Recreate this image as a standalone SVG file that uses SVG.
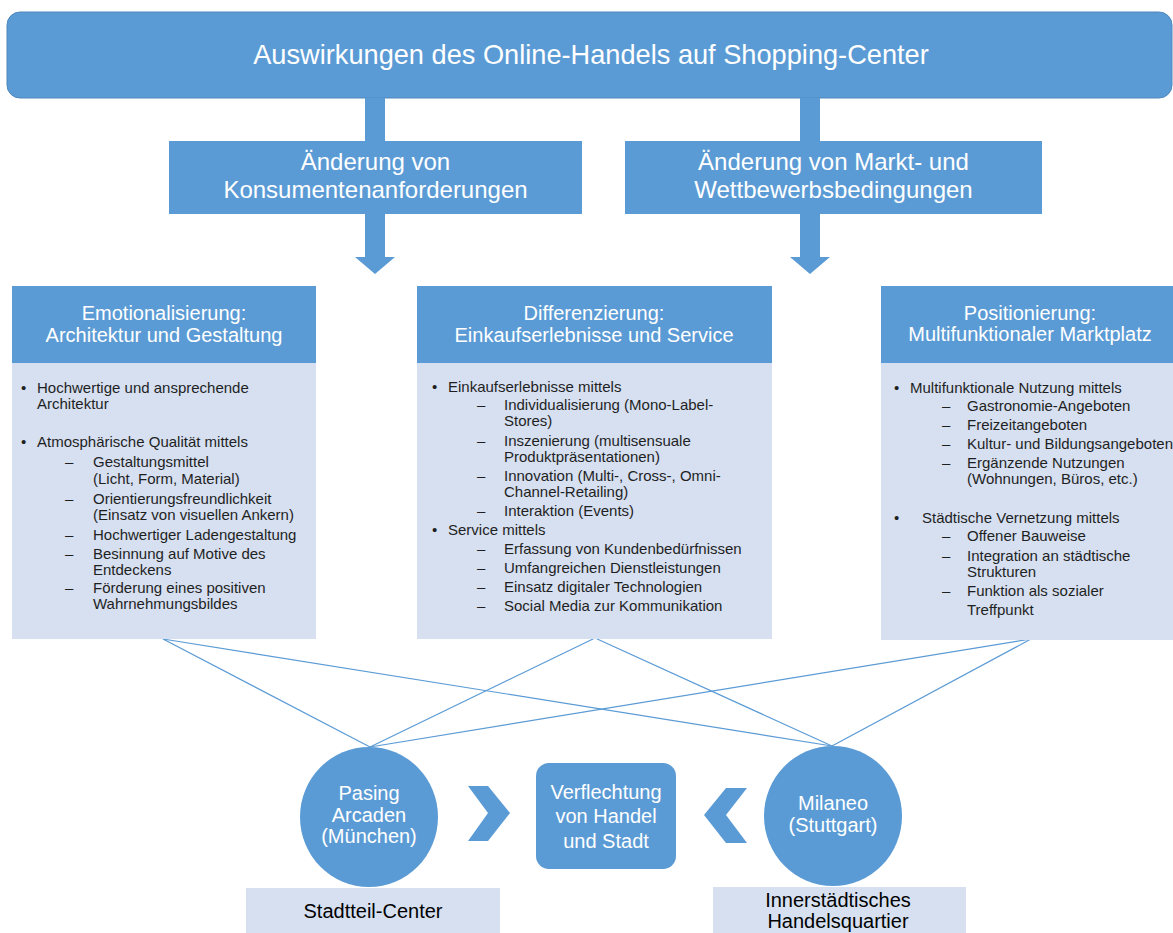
<svg xmlns="http://www.w3.org/2000/svg" width="1173" height="933" viewBox="0 0 1173 933">
  <style>
    .blue { fill: #5B9BD5; }
    .pale { fill: #D6E0F1; }
    .wt { fill: #FFFFFF; font-family: "Liberation Sans", Arial, sans-serif; text-anchor: middle; }
    .body { fill: #1F1F1F; font-family: "Liberation Sans", Arial, sans-serif; font-size: 15px; }
    .lbl { fill: #000000; font-family: "Liberation Sans", Arial, sans-serif; font-size: 20px; text-anchor: middle; }
    .link { stroke: #5B9BD5; stroke-width: 1.2; fill: none; }
  </style>

  <!-- title banner -->
  <g id="title">
    <rect x="7" y="12" width="1165" height="86" rx="13" class="blue" stroke="#4F88BD" stroke-width="1"/>
    <text x="591" y="64" class="wt" font-size="27.2">Auswirkungen des Online-Handels auf Shopping-Center</text>
  </g>

  <!-- block arrows between the upper levels -->
  <g id="flow-arrows" class="blue">
    <rect x="365" y="98" width="20" height="45"/>
    <rect x="800" y="98" width="20" height="45"/>
    <path d="M365,213 H385 V257 H395 L375,274 L355,257 H365 Z"/>
    <path d="M800,213 H820 V257 H830 L810,274 L790,257 H800 Z"/>
  </g>

  <g id="consumer">
    <rect x="169" y="141" width="413" height="73" class="blue"/>
    <text class="wt" font-size="24" x="375.5"><tspan x="375.5" y="170">Änderung von</tspan><tspan x="375.5" y="198">Konsumentenanforderungen</tspan></text>
  </g>

  <g id="market">
    <rect x="625" y="141" width="417" height="73" class="blue"/>
    <text class="wt" font-size="24" x="833.5"><tspan x="833.5" y="170">Änderung von Markt- und</tspan><tspan x="833.5" y="198">Wettbewerbsbedingungen</tspan></text>
  </g>

  <!-- connectors from the three strategies to the two examples -->
  <g id="connectors" class="link">
    <line x1="163" y1="639" x2="370" y2="747"/>
    <line x1="163" y1="639" x2="832" y2="746"/>
    <line x1="595" y1="638" x2="370" y2="747"/>
    <line x1="595" y1="638" x2="832" y2="746"/>
    <line x1="1031" y1="639" x2="370" y2="747"/>
    <line x1="1031" y1="639" x2="832" y2="746"/>
  </g>

  <!-- strategy columns -->
  <g id="emotion">
    <rect x="12" y="363" width="304" height="276" class="pale"/>
    <rect x="12" y="286" width="304" height="77" class="blue"/>
    <text class="wt" font-size="20"><tspan x="164" y="320">Emotionalisierung:</tspan><tspan x="164" y="342">Architektur und Gestaltung</tspan></text>
    <g class="body">
      <text x="21" y="393">•</text><text x="37" y="393">Hochwertige und ansprechende</text>
      <text x="37" y="409">Architektur</text>
      <text x="21" y="447">•</text><text x="37" y="447">Atmosphärische Qualität mittels</text>
      <text x="65" y="467">–</text><text x="93" y="467">Gestaltungsmittel</text>
      <text x="93" y="484">(Licht, Form, Material)</text>
      <text x="65" y="504">–</text><text x="93" y="504">Orientierungsfreundlichkeit</text>
      <text x="93" y="520">(Einsatz von visuellen Ankern)</text>
      <text x="65" y="540">–</text><text x="93" y="540">Hochwertiger Ladengestaltung</text>
      <text x="65" y="559">–</text><text x="93" y="559">Besinnung auf Motive des</text>
      <text x="93" y="575">Entdeckens</text>
      <text x="65" y="593">–</text><text x="93" y="593">Förderung eines positiven</text>
      <text x="93" y="609">Wahrnehmungsbildes</text>
    </g>
  </g>

  <g id="differentiation">
    <rect x="417" y="363" width="355" height="276" class="pale"/>
    <rect x="417" y="286" width="355" height="77" class="blue"/>
    <text class="wt" font-size="20"><tspan x="594" y="320">Differenzierung:</tspan><tspan x="594" y="342">Einkaufserlebnisse und Service</tspan></text>
    <g class="body">
      <text x="432" y="392">•</text><text x="448" y="392">Einkaufserlebnisse mittels</text>
      <text x="477" y="410">–</text><text x="504" y="410">Individualisierung (Mono-Label-</text>
      <text x="504" y="426">Stores)</text>
      <text x="477" y="446">–</text><text x="504" y="446">Inszenierung (multisensuale</text>
      <text x="504" y="462">Produktpräsentationen)</text>
      <text x="477" y="481">–</text><text x="504" y="481">Innovation (Multi-, Cross-, Omni-</text>
      <text x="504" y="497">Channel-Retailing)</text>
      <text x="477" y="516">–</text><text x="504" y="516">Interaktion (Events)</text>
      <text x="432" y="535">•</text><text x="448" y="535">Service mittels</text>
      <text x="477" y="554">–</text><text x="504" y="554">Erfassung von Kundenbedürfnissen</text>
      <text x="477" y="573">–</text><text x="504" y="573">Umfangreichen Dienstleistungen</text>
      <text x="477" y="592">–</text><text x="504" y="592">Einsatz digitaler Technologien</text>
      <text x="477" y="611">–</text><text x="504" y="611">Social Media zur Kommunikation</text>
    </g>
  </g>

  <g id="positioning">
    <rect x="881" y="363" width="292" height="277" class="pale"/>
    <rect x="881" y="286" width="292" height="77" class="blue"/>
    <text class="wt" font-size="20"><tspan x="1030" y="320">Positionierung:</tspan><tspan x="1030" y="341">Multifunktionaler Marktplatz</tspan></text>
    <g class="body">
      <text x="894" y="393">•</text><text x="910" y="393">Multifunktionale Nutzung mittels</text>
      <text x="942" y="411">–</text><text x="967" y="411">Gastronomie-Angeboten</text>
      <text x="942" y="430">–</text><text x="967" y="430">Freizeitangeboten</text>
      <text x="942" y="449">–</text><text x="967" y="449">Kultur- und Bildungsangeboten</text>
      <text x="942" y="468">–</text><text x="967" y="468">Ergänzende Nutzungen</text>
      <text x="967" y="484">(Wohnungen, Büros, etc.)</text>
      <text x="894" y="523">•</text><text x="922" y="523">Städtische Vernetzung mittels</text>
      <text x="942" y="541">–</text><text x="967" y="541">Offener Bauweise</text>
      <text x="942" y="561">–</text><text x="967" y="561">Integration an städtische</text>
      <text x="967" y="577">Strukturen</text>
      <text x="942" y="596">–</text><text x="967" y="596">Funktion als sozialer</text>
      <text x="967" y="615">Treffpunkt</text>
    </g>
  </g>

  <!-- examples and their meeting point -->
  <g id="pasing">
    <ellipse cx="369" cy="817" rx="69" ry="70" class="blue"/>
    <text class="wt" font-size="20"><tspan x="369" y="800">Pasing</tspan><tspan x="369" y="822">Arcaden</tspan><tspan x="369" y="843">(München)</tspan></text>
  </g>

  <g id="chevron-right">
    <path d="M468,786 H488 L510,813 L488,841 H468 L488,813 Z" class="blue"/>
  </g>

  <g id="interweaving">
    <rect x="536" y="763" width="140" height="106" rx="13" class="blue"/>
    <text class="wt" font-size="20"><tspan x="606" y="799">Verflechtung</tspan><tspan x="606" y="823">von Handel</tspan><tspan x="606" y="848">und Stadt</tspan></text>
  </g>

  <g id="chevron-left">
    <path d="M747,788 H726 L704,815 L726,843 H747 L726,815 Z" class="blue"/>
  </g>

  <g id="milaneo">
    <ellipse cx="833" cy="816" rx="69" ry="70" class="blue"/>
    <text class="wt" font-size="20"><tspan x="833" y="810">Milaneo</tspan><tspan x="833" y="832">(Stuttgart)</tspan></text>
  </g>

  <g id="district-center">
    <rect x="246" y="888" width="254" height="45" class="pale"/>
    <text x="373" y="918" class="lbl" font-size="18">Stadtteil-Center</text>
  </g>

  <g id="inner-city">
    <rect x="713" y="887" width="253" height="46" class="pale"/>
    <text class="lbl" font-size="18"><tspan x="838" y="907">Innerstädtisches</tspan><tspan x="838" y="928">Handelsquartier</tspan></text>
  </g>
</svg>
